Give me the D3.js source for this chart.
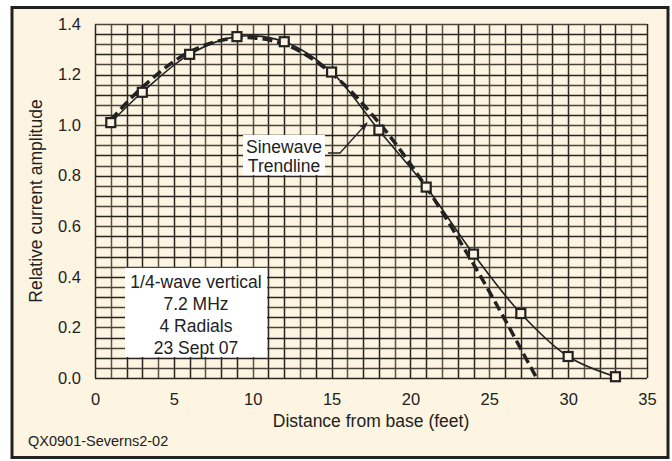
<!DOCTYPE html>
<html>
<head>
<meta charset="utf-8">
<script src="https://cdn.jsdelivr.net/npm/d3@7"></script>
<style>
  body { margin: 0; background: #fff; }
  svg text { font-family: "Liberation Sans", Arial, sans-serif; fill: #222; }
</style>
</head>
<body>
<div id="chart"></div>
<script>
// measured points (feet, relative amplitude)
var distFeet = [1, 3, 6, 9, 12, 15, 18, 21, 24, 27, 30, 33];
var amplitude = [1.01, 1.13, 1.28, 1.35, 1.33, 1.21, 0.98, 0.755, 0.49, 0.255, 0.085, 0.005];

// sinewave trendline
var trendFeet = [1, 3, 6, 9, 12, 15, 18, 21, 24, 26, 27, 28];
var trendAmp = [1.02, 1.15, 1.29, 1.345, 1.32, 1.205, 1.01, 0.755, 0.45, 0.23, 0.115, 0.0];

var xTicks = [0, 5, 10, 15, 20, 25, 30, 35];
var yTicks = [0.0, 0.2, 0.4, 0.6, 0.8, 1.0, 1.2, 1.4];
var infoLines = ["1/4-wave vertical", "7.2 MHz", "4 Radials", "23 Sept 07"];
var trendLabel = ["Sinewave", "Trendline"];

var width = 672;
var height = 461;
var margin = ({ top: 24, right: 25, bottom: 83, left: 95 });

var svg = d3.select("#chart").append("svg")
  .attr("width", width)
  .attr("height", height);

// cream panel with dark frame
svg.append("rect")
  .attr("x", 12).attr("y", 7.5)
  .attr("width", 656).attr("height", 450)
  .attr("fill", "#fdf5e1")
  .attr("stroke", "#222")
  .attr("stroke-width", 3);

var xScale = d3.scaleLinear()
  .domain([0, 35])
  .range([margin.left, width - margin.right]);

var yScale = d3.scaleLinear()
  .domain([0, 1.4])
  .range([height - margin.bottom, margin.top]);

/* grid: 1 ft vertical, 0.04 horizontal */
var grid = svg.append("g").attr("class", "grid-lines");
grid.selectAll(".vline")
  .data(d3.range(0, 36))
  .join("line")
  .attr("class", "vline")
  .attr("x1", d => Math.round(xScale(d)) + 0.5)
  .attr("x2", d => Math.round(xScale(d)) + 0.5)
  .attr("y1", yScale(1.4))
  .attr("y2", yScale(0))
  .attr("stroke", (d, i) => i % 3 == 1 ? "#5a544a" : "#2a2520")
  .attr("stroke-width", 1.5);

grid.selectAll(".hline")
  .data(d3.range(0, 36).map(i => i * 0.04))
  .join("line")
  .attr("class", "hline")
  .attr("x1", xScale(0))
  .attr("x2", xScale(35))
  .attr("y1", d => Math.round(yScale(d)) + 0.5)
  .attr("y2", d => Math.round(yScale(d)) + 0.5)
  .attr("stroke", (d, i) => i % 2 == 1 ? "#4a443b" : "#2a2520")
  .attr("stroke-width", 1.5);

/* axes, ticks only as text */
var xAxis = d3.axisBottom(xScale).tickValues(xTicks).tickSize(0).tickPadding(15);
var yAxis = d3.axisLeft(yScale).tickValues(yTicks).tickSize(0).tickPadding(14)
  .tickFormat(d3.format(".1f"));

var gx = svg.append("g")
  .attr("transform", `translate(0,${height - margin.bottom})`)
  .call(xAxis);
var gy = svg.append("g")
  .attr("transform", `translate(${margin.left},0)`)
  .call(yAxis);
[gx, gy].forEach(g => {
  g.select(".domain").remove();
  g.selectAll("text")
    .style("font-size", "16.5px")
    .style("font-family", "'Liberation Sans', Arial, sans-serif")
    .attr("fill", "#222");
});

//x-axis label
svg.append("text")
  .attr("x", (xScale(0) + xScale(35)) / 2)
  .attr("y", 427)
  .attr("text-anchor", "middle")
  .style("font-size", "17.5px")
  .text("Distance from base (feet)");

//y-axis label
svg.append("text")
  .attr("transform", "translate(42," + yScale(0.7) + ") rotate(-90)")
  .attr("text-anchor", "middle")
  .style("font-size", "17.5px")
  .text("Relative current amplitude");

//footer
svg.append("text")
  .attr("x", 28)
  .attr("y", 446)
  .style("font-size", "14.5px")
  .text("QX0901-Severns2-02");

/* trendline (dashed) */
var trendData = trendFeet.map((f, i) => ({ x: f, y: trendAmp[i] }));
var trendLine = d3.line()
  .x(d => xScale(d.x))
  .y(d => yScale(d.y))
  .curve(d3.curveCatmullRom);

svg.append("path")
  .attr("d", trendLine(trendData))
  .attr("fill", "none")
  .attr("stroke", "#222")
  .attr("stroke-width", 3.5)
  .attr("stroke-dasharray", "10,5");

/* measured line with square markers */
var measData = distFeet.map((f, i) => ({ x: f, y: amplitude[i] }));
var measLine = d3.line()
  .x(d => xScale(d.x))
  .y(d => yScale(d.y))
  .curve(d3.curveCatmullRom);

svg.append("path")
  .attr("d", measLine(measData))
  .attr("fill", "none")
  .attr("stroke", "#222")
  .attr("stroke-width", 1.6);

var sq = 9;
svg.append("g").selectAll("rect")
  .data(measData)
  .join("rect")
  .attr("x", d => xScale(d.x) - sq / 2)
  .attr("y", d => yScale(d.y) - sq / 2)
  .attr("width", sq)
  .attr("height", sq)
  .attr("fill", "#fdf5e1")
  .attr("stroke", "#222")
  .attr("stroke-width", 2.2);

/* info box */
svg.append("rect")
  .attr("x", 125).attr("y", 268)
  .attr("width", 142).attr("height", 89)
  .attr("fill", "#fff");
svg.append("g").selectAll("text")
  .data(infoLines)
  .join("text")
  .attr("x", 196)
  .attr("y", (d, i) => 288 + i * 22)
  .attr("text-anchor", "middle")
  .style("font-size", "17.5px")
  .text(d => d);

/* sinewave trendline callout */
svg.append("rect")
  .attr("x", 243).attr("y", 135)
  .attr("width", 82).attr("height", 40)
  .attr("fill", "#fff");
svg.append("g").selectAll("text")
  .data(trendLabel)
  .join("text")
  .attr("x", 284)
  .attr("y", (d, i) => 153 + i * 19)
  .attr("text-anchor", "middle")
  .style("font-size", "17.5px")
  .text(d => d);

svg.append("defs").append("marker")
  .attr("id", "arrow")
  .attr("viewBox", "0 0 10 10")
  .attr("refX", 9).attr("refY", 5)
  .attr("markerWidth", 9).attr("markerHeight", 9)
  .attr("markerUnits", "userSpaceOnUse")
  .attr("orient", "auto")
  .append("path")
  .attr("d", "M0,1.5 L10,5 L0,8.5 L2.5,5 Z")
  .attr("fill", "#222");

svg.append("path")
  .attr("d", "M328,153 L340,153 L367,123")
  .attr("fill", "none")
  .attr("stroke", "#222")
  .attr("stroke-width", 1.3)
  .attr("marker-end", "url(#arrow)");
</script>
</body>
</html>
